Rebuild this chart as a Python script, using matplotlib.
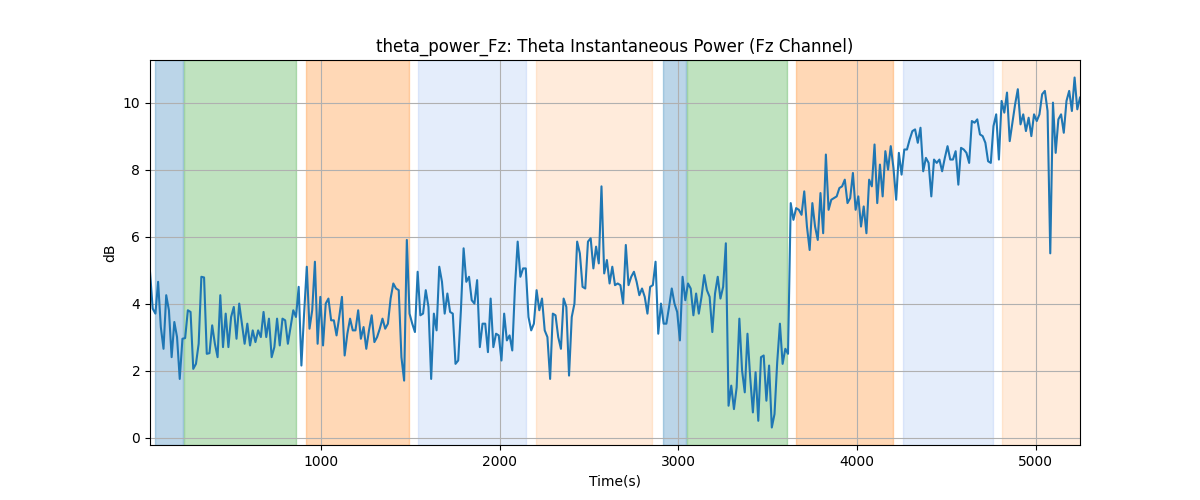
import numpy as np
import matplotlib
matplotlib.use("Agg")
import matplotlib.pyplot as plt

t_start = 42
t_end = 5248

power_db = [
    # 42 - 740
    4.95, 3.85, 3.7, 4.65, 3.3, 2.65, 4.25, 3.8, 2.4, 3.45, 3.0, 1.75, 2.95, 2.97, 3.8, 3.75,
    2.05, 2.2, 2.8, 4.8, 4.78, 2.5, 2.52, 3.35, 2.8, 2.4, 4.25, 2.7, 3.7, 2.7, 3.6, 3.9,
    2.95, 4.0, 3.4, 2.8, 3.4, 2.75, 3.2, 2.85, 3.2, 3.0, 3.75, 3.0, 3.55, 2.4,
    # 740 - 1440
    2.7, 3.55, 2.75, 3.55, 3.5, 2.8, 3.3, 3.8, 3.6, 4.5, 2.15, 3.7, 5.1, 3.25, 3.8, 5.25,
    2.8, 4.2, 2.75, 4.0, 4.15, 3.5, 3.5, 3.05, 3.6, 4.2, 2.45, 3.1, 3.55, 3.2, 3.2, 3.8,
    2.95, 3.3, 2.65, 3.2, 3.65, 2.85, 3.0, 3.25, 3.55, 3.25, 3.4, 4.15, 4.6, 4.45,
    # 1440 - 2140
    4.4, 2.4, 1.7, 5.9, 3.7, 3.4, 3.15, 4.95, 3.65, 3.7, 4.4, 3.9, 1.75, 3.7, 3.2, 5.1,
    4.65, 3.7, 4.3, 3.75, 3.7, 2.2, 2.3, 3.8, 5.65, 4.65, 4.8, 4.1, 4.0, 4.7, 2.7, 3.4,
    3.4, 2.55, 4.15, 2.7, 3.1, 3.05, 2.3, 3.7, 2.9, 3.05, 2.6, 4.5, 5.85, 4.8, 5.05, 5.05,
    # 2140 - 2850
    3.6, 3.2, 3.4, 4.4, 3.8, 4.15, 3.2, 3.0, 1.75, 3.7, 3.65, 3.0, 2.65, 4.15, 3.9, 1.85,
    3.6, 4.0, 5.85, 5.5, 4.5, 4.45, 5.85, 5.95, 5.05, 5.7, 5.2, 7.5, 4.9, 5.3, 4.6, 5.1,
    4.55, 4.6, 4.55, 4.0, 5.75, 4.55, 4.8, 4.95, 4.65, 4.25, 4.45, 4.2, 3.7, 4.5, 4.55,
    # 2850 - 3580
    5.25, 3.1, 4.0, 3.4, 3.4, 3.9, 4.45, 4.0, 3.75, 2.9, 4.8, 4.1, 4.6, 4.45, 3.65, 4.3,
    3.7, 4.2, 4.85, 4.4, 4.2, 3.15, 4.3, 4.8, 4.15, 4.5, 5.8, 0.95, 1.55, 0.85, 1.5, 3.55,
    2.0, 1.35, 3.1, 1.8, 0.75, 1.95, 0.5, 2.4, 2.45, 1.1, 2.15, 0.3, 0.7, 2.25, 3.4, 2.2,
    2.65, 2.5, 7.0,
    # 3580 - 4240
    6.5, 6.85, 6.8, 6.65, 7.35, 6.3, 5.6, 7.0, 6.3, 5.9, 7.3, 6.1, 8.45, 6.8, 7.1, 7.15,
    7.2, 7.45, 7.5, 7.7, 7.0, 7.15, 7.9, 6.8, 7.2, 6.3, 6.9, 6.1, 7.7, 7.5, 8.75, 7.0,
    8.15, 7.2, 8.55, 8.0, 8.7, 8.05, 7.1, 8.5, 7.85, 8.6, 8.6, 8.9, 9.15,
    # 4240 - 4760
    9.2, 8.8, 9.25, 7.95, 8.35, 8.2, 7.2, 8.3, 8.2, 8.3, 7.95, 8.35, 8.7, 8.3, 8.3, 8.55,
    7.55, 8.65, 8.6, 8.5, 8.2, 9.45, 9.4, 9.5, 9.05, 9.0, 8.8, 8.25, 8.2, 9.3, 9.65, 8.3,
    10.05, 9.7, 10.3, 8.85,
    # 4760 - 5248
    9.4, 9.95, 10.4, 9.35, 9.65, 9.15, 9.55, 9.0, 9.65, 9.45, 9.65, 10.25, 10.35, 9.75, 5.5, 10.0,
    8.5, 9.5, 9.65, 9.1, 10.05, 10.35, 9.75, 10.75, 9.8, 10.15,
]

# shaded epochs
span_starts = [70, 232, 915, 1543, 2204, 2916, 3048, 3661, 4255, 4810]
span_ends = [228, 862, 1492, 2146, 2852, 3044, 3610, 4200, 4760, 5400]
span_colors = ["tab:blue", "tab:green", "tab:orange", "cornflowerblue", "tab:orange",
               "tab:blue", "tab:green", "tab:orange", "cornflowerblue", "tab:orange"]
span_alphas = [0.3, 0.3, 0.3, 0.17, 0.15, 0.3, 0.3, 0.3, 0.17, 0.15]

times = np.linspace(t_start, t_end, len(power_db))

fig, ax = plt.subplots(figsize=(12, 5), dpi=100)
for s, e, c, a in zip(span_starts, span_ends, span_colors, span_alphas):
    ax.axvspan(s, e, color=c, alpha=a)
ax.plot(times, power_db, color="tab:blue", linewidth=1.5)
ax.set_xlim(times[0], times[-1])
ax.grid(True)
ax.set_title("theta_power_Fz: Theta Instantaneous Power (Fz Channel)")
ax.set_xlabel("Time(s)")
ax.set_ylabel("dB")
fig.savefig("out.png")
